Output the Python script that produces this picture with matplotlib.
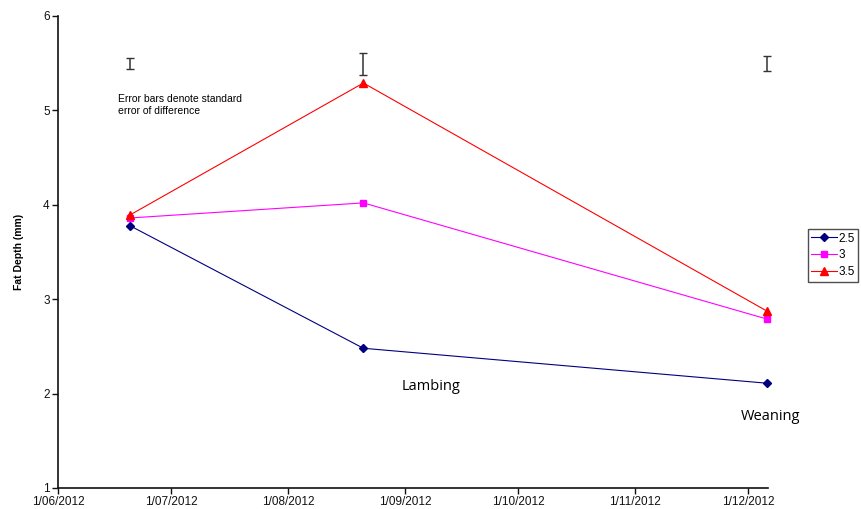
import matplotlib
matplotlib.use("Agg")
import matplotlib.pyplot as plt
import matplotlib.dates as mdates
from datetime import datetime, timedelta

plt.rcParams['font.family'] = ['Liberation Sans', 'DejaVu Sans']

# Sampling dates and mean fat depth (mm) per condition-score group
dates = [datetime(2012, 6, 20), datetime(2012, 8, 21), datetime(2012, 12, 6)]
series_names = ["2.5", "3", "3.5"]
fat_25 = [3.78, 2.48, 2.11]
fat_30 = [3.86, 4.02, 2.79]
fat_35 = [3.89, 5.29, 2.875]

# Standard error of difference at each sampling date
sed_centre = [5.50, 5.495, 5.495]
sed_half = [0.058, 0.117, 0.078]

fig = plt.figure(figsize=(8.61, 5.09), dpi=100)
ax = fig.add_axes([0.0674, 0.0413, 0.8242, 0.9273])

styles = [
    dict(color="#000080", marker="D", markersize=4),
    dict(color="#FF00FF", marker="s", markersize=5),
    dict(color="#FF0000", marker="^", markersize=5.5),
]
for vals, name, st in zip([fat_25, fat_30, fat_35], series_names, styles):
    ax.plot(dates, vals, label=name, linewidth=0.8, color=st["color"],
            marker=st["marker"], markersize=st["markersize"],
            markerfacecolor=st["color"], markeredgecolor=st["color"],
            clip_on=False, zorder=3)

ax.errorbar(dates, sed_centre, yerr=sed_half, fmt="none", ecolor="#333333",
            elinewidth=1.1, capsize=3, capthick=1.0, clip_on=False)

ax.set_ylim(1, 6)
ax.set_yticks([1, 2, 3, 4, 5, 6])
ax.set_xlim(datetime(2012, 6, 1), datetime(2012, 12, 6, 6))
ax.xaxis.set_major_locator(mdates.MonthLocator())
ax.xaxis.set_major_formatter(
    plt.FuncFormatter(lambda v, p: "1/%02d/%d" % (mdates.num2date(v).month,
                                                   mdates.num2date(v).year)))

for s in ["top", "right"]:
    ax.spines[s].set_visible(False)
for s in ["left", "bottom"]:
    ax.spines[s].set_linewidth(1.2)
    ax.spines[s].set_color("#111111")
ax.tick_params(axis="both", direction="out", length=4, width=1,
               labelsize=8.5, colors="#111111", pad=2)

ax.set_ylabel("Fat Depth (mm)", fontsize=7.5, fontweight="bold", labelpad=14)

ax.text(datetime(2012, 6, 20) - timedelta(days=3), 5.17,
        "Error bars denote standard\nerror of difference",
        fontsize=7.5, va="top", ha="left", linespacing=1.25)
ax.text(datetime(2012, 9, 8), 2.07, "Lambing", fontsize=10.5,
        family=["Open Sans", "DejaVu Sans"], ha="center", va="center")
ax.text(datetime(2012, 12, 7), 1.76, "Weaning", fontsize=10.5,
        family=["Open Sans", "DejaVu Sans"], ha="center", va="center")

leg = ax.legend(loc="upper left", bbox_to_anchor=(0.938, 1 - 229 / 509),
                bbox_transform=fig.transFigure, fontsize=8.5, frameon=True,
                fancybox=False, borderpad=0.3, handlelength=2.2,
                handletextpad=0.1, labelspacing=0.4, borderaxespad=0)
leg.get_frame().set_edgecolor("#222222")
leg.get_frame().set_linewidth(1.0)

fig.savefig("out.png", dpi=100)
